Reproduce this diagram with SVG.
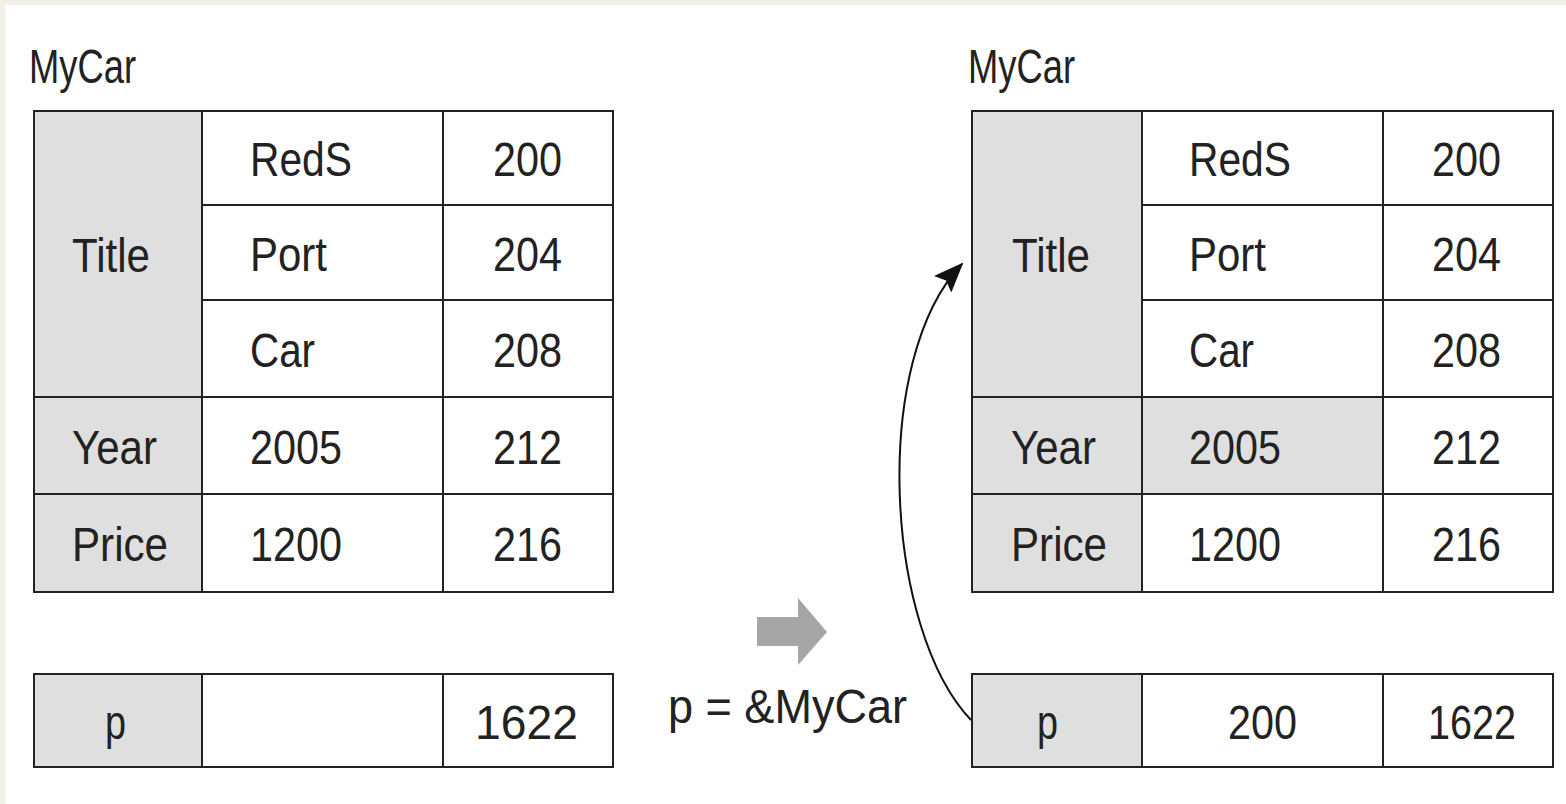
<svg xmlns="http://www.w3.org/2000/svg" width="1566" height="804" viewBox="0 0 1566 804">
<style>
.bg{fill:#f3efe9}
.w{fill:#ffffff;stroke:#222;stroke-width:2}
.g{fill:#e0dfdf;stroke:#222;stroke-width:2}
.t{font-family:"Liberation Sans",Arial,sans-serif;font-size:49px;fill:#222}
.conn{fill:none;stroke:#111;stroke-width:2}
</style>
<defs>
<marker id="ah2" viewBox="0 0 30 24" refX="28" refY="12" markerWidth="30" markerHeight="24" markerUnits="userSpaceOnUse" orient="auto">
<path d="M0,0 L30,12 L0,24 L5,12 z" fill="#111"/>
</marker>
</defs>
<rect class="bg" x="0" y="0" width="1566" height="804"/>
<rect x="5" y="5" width="1561" height="799" fill="#ffffff"/>

<g id="left-label"><text class="t" x="29" y="83" textLength="107" lengthAdjust="spacingAndGlyphs">MyCar</text></g>
<g id="left-table">
<rect class="g" x="34" y="111" width="168" height="286"/>
<rect class="w" x="202" y="111" width="241" height="94"/>
<rect class="w" x="443" y="111" width="170" height="94"/>
<rect class="w" x="202" y="205" width="241" height="95"/>
<rect class="w" x="443" y="205" width="170" height="95"/>
<rect class="w" x="202" y="300" width="241" height="97"/>
<rect class="w" x="443" y="300" width="170" height="97"/>
<rect class="g" x="34" y="397" width="168" height="97"/>
<rect class="w" x="202" y="397" width="241" height="97"/>
<rect class="w" x="443" y="397" width="170" height="97"/>
<rect class="g" x="34" y="494" width="168" height="98"/>
<rect class="w" x="202" y="494" width="241" height="98"/>
<rect class="w" x="443" y="494" width="170" height="98"/>
<text class="t" x="72" y="272" textLength="78" lengthAdjust="spacingAndGlyphs">Title</text>
<text class="t" x="250" y="176" textLength="102" lengthAdjust="spacingAndGlyphs">RedS</text>
<text class="t" x="493" y="176" textLength="69" lengthAdjust="spacingAndGlyphs">200</text>
<text class="t" x="250" y="271" textLength="77" lengthAdjust="spacingAndGlyphs">Port</text>
<text class="t" x="493" y="271" textLength="69" lengthAdjust="spacingAndGlyphs">204</text>
<text class="t" x="250" y="367" textLength="65" lengthAdjust="spacingAndGlyphs">Car</text>
<text class="t" x="493" y="367" textLength="69" lengthAdjust="spacingAndGlyphs">208</text>
<text class="t" x="72" y="464" textLength="85" lengthAdjust="spacingAndGlyphs">Year</text>
<text class="t" x="250" y="464" textLength="92" lengthAdjust="spacingAndGlyphs">2005</text>
<text class="t" x="493" y="464" textLength="69" lengthAdjust="spacingAndGlyphs">212</text>
<text class="t" x="72" y="561" textLength="96" lengthAdjust="spacingAndGlyphs">Price</text>
<text class="t" x="250" y="561" textLength="92" lengthAdjust="spacingAndGlyphs">1200</text>
<text class="t" x="493" y="561" textLength="69" lengthAdjust="spacingAndGlyphs">216</text>
</g>
<g id="left-p">
<rect class="g" x="34" y="674" width="168" height="93"/>
<rect class="w" x="202" y="674" width="241" height="93"/>
<rect class="w" x="443" y="674" width="170" height="93"/>
<text class="t" x="105" y="739" textLength="21" lengthAdjust="spacingAndGlyphs">p</text>
<text class="t" x="475" y="739" textLength="103" lengthAdjust="spacingAndGlyphs">1622</text>
</g>

<g id="step">
<path d="M757,617 L798,617 L798,598 L827,632 L798,665 L798,646 L757,646 z" fill="#a6a6a6"/>
<text class="t" x="668" y="723" textLength="239" lengthAdjust="spacingAndGlyphs">p = &amp;MyCar</text>
</g>

<g id="right-label"><text class="t" x="968" y="83" textLength="107" lengthAdjust="spacingAndGlyphs">MyCar</text></g>
<g id="right-table">
<rect class="g" x="972" y="111" width="170" height="286"/>
<rect class="w" x="1142" y="111" width="241" height="94"/>
<rect class="w" x="1383" y="111" width="170" height="94"/>
<rect class="w" x="1142" y="205" width="241" height="95"/>
<rect class="w" x="1383" y="205" width="170" height="95"/>
<rect class="w" x="1142" y="300" width="241" height="97"/>
<rect class="w" x="1383" y="300" width="170" height="97"/>
<rect class="g" x="972" y="397" width="170" height="97"/>
<rect class="g" x="1142" y="397" width="241" height="97"/>
<rect class="w" x="1383" y="397" width="170" height="97"/>
<rect class="g" x="972" y="494" width="170" height="98"/>
<rect class="w" x="1142" y="494" width="241" height="98"/>
<rect class="w" x="1383" y="494" width="170" height="98"/>
<text class="t" x="1012" y="272" textLength="78" lengthAdjust="spacingAndGlyphs">Title</text>
<text class="t" x="1189" y="176" textLength="102" lengthAdjust="spacingAndGlyphs">RedS</text>
<text class="t" x="1432" y="176" textLength="69" lengthAdjust="spacingAndGlyphs">200</text>
<text class="t" x="1189" y="271" textLength="77" lengthAdjust="spacingAndGlyphs">Port</text>
<text class="t" x="1432" y="271" textLength="69" lengthAdjust="spacingAndGlyphs">204</text>
<text class="t" x="1189" y="367" textLength="65" lengthAdjust="spacingAndGlyphs">Car</text>
<text class="t" x="1432" y="367" textLength="69" lengthAdjust="spacingAndGlyphs">208</text>
<text class="t" x="1011" y="464" textLength="85" lengthAdjust="spacingAndGlyphs">Year</text>
<text class="t" x="1189" y="464" textLength="92" lengthAdjust="spacingAndGlyphs">2005</text>
<text class="t" x="1432" y="464" textLength="69" lengthAdjust="spacingAndGlyphs">212</text>
<text class="t" x="1011" y="561" textLength="96" lengthAdjust="spacingAndGlyphs">Price</text>
<text class="t" x="1189" y="561" textLength="92" lengthAdjust="spacingAndGlyphs">1200</text>
<text class="t" x="1432" y="561" textLength="69" lengthAdjust="spacingAndGlyphs">216</text>
</g>
<g id="right-p">
<rect class="g" x="972" y="674" width="170" height="93"/>
<rect class="w" x="1142" y="674" width="241" height="93"/>
<rect class="w" x="1383" y="674" width="170" height="93"/>
<text class="t" x="1037" y="739" textLength="21" lengthAdjust="spacingAndGlyphs">p</text>
<text class="t" x="1228" y="739" textLength="69" lengthAdjust="spacingAndGlyphs">200</text>
<text class="t" x="1428" y="739" textLength="88" lengthAdjust="spacingAndGlyphs">1622</text>
</g>

<g id="connectors">
<path class="conn" d="M971,720 C885,630 870,360 962,264" marker-end="url(#ah2)"/>
</g>
</svg>
